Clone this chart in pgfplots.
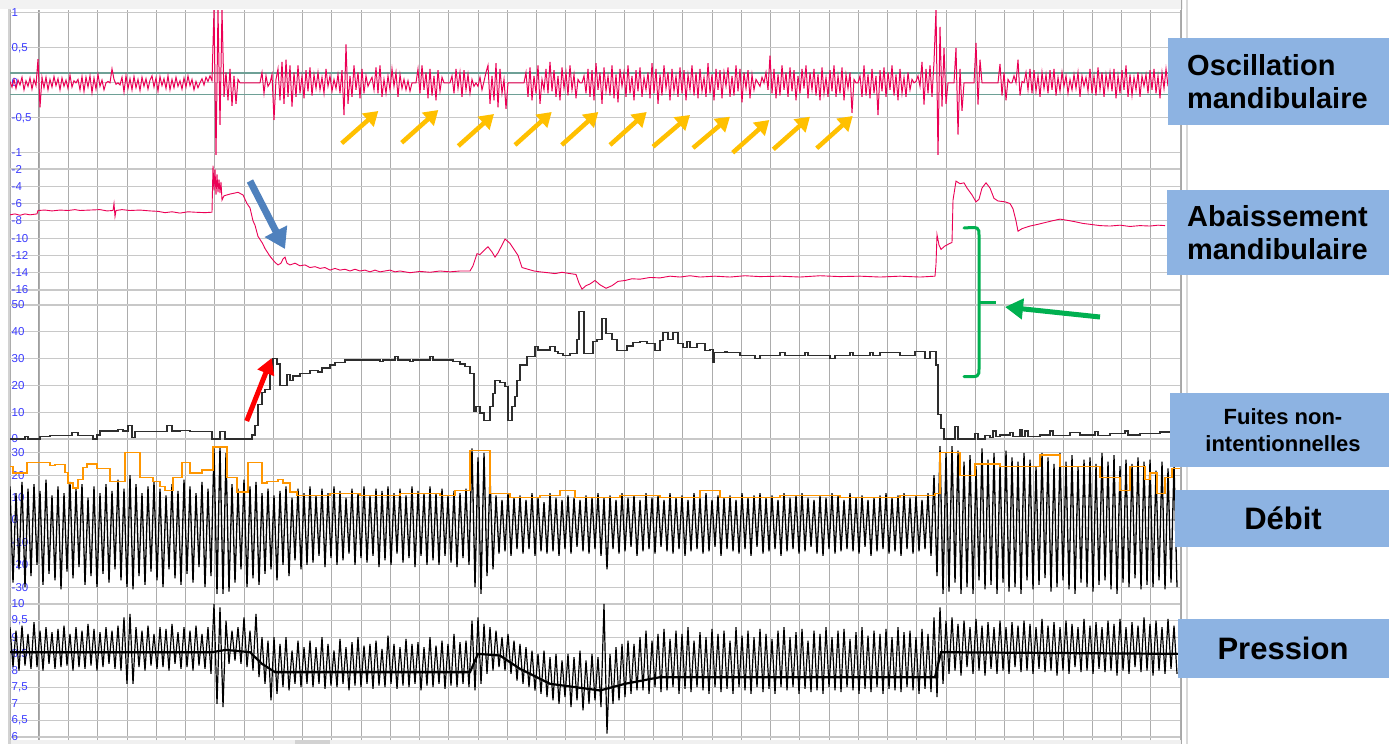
\documentclass[border=0pt]{standalone}
\usepackage{pgfplots}
\pgfplotsset{compat=1.18}
\usepackage{pgfplotstable}
\usepackage{fontspec}
\setmainfont{Liberation Sans}
\usetikzlibrary{arrows.meta}
\definecolor{sigred}{RGB}{235,0,85}
\definecolor{tickblue}{RGB}{60,60,255}
\definecolor{boxblue}{RGB}{141,179,226}
\definecolor{gridv}{RGB}{172,172,172}
\definecolor{gridh}{RGB}{200,200,200}
\definecolor{thresh}{RGB}{110,160,150}
\definecolor{debitorange}{RGB}{255,150,0}
\definecolor{arrowyellow}{RGB}{255,192,0}
\definecolor{arrowblue}{RGB}{79,129,189}
\definecolor{arrowgreen}{RGB}{0,176,80}
\definecolor{fuitegray}{RGB}{45,45,45}

% Oscillation mandibulaire: one sample every 2 px, from x=10
\pgfplotstableread[row sep=\\]{y\\
0.02\\ -0.06\\ 0.05\\ -0.08\\ 0.04\\ -0.03\\ 0.08\\ -0.10\\ 0.03\\ -0.05\\
0.07\\ -0.09\\ 0.05\\ -0.04\\ 0.34\\ -0.35\\ 0.08\\ -0.07\\ 0.08\\ -0.10\\
0.05\\ -0.06\\ 0.09\\ -0.04\\ 0.06\\ -0.10\\ 0.07\\ -0.05\\ 0.04\\ -0.08\\
0.11\\ -0.06\\ 0.03\\ 0.00\\ 0.05\\ -0.10\\ 0.09\\ -0.12\\ 0.08\\ -0.06\\
0.10\\ -0.14\\ 0.07\\ -0.09\\ 0.12\\ -0.05\\ 0.04\\ -0.10\\ 0.00\\ 0.02\\
0.00\\ 0.20\\ 0.05\\ -0.02\\ 0.00\\ -0.03\\ 0.08\\ -0.13\\ 0.10\\ -0.08\\
0.06\\ -0.10\\ 0.09\\ -0.07\\ 0.05\\ -0.11\\ 0.08\\ -0.05\\ 0.06\\ -0.09\\
0.04\\ 0.10\\ -0.06\\ 0.07\\ -0.12\\ 0.09\\ -0.04\\ 0.06\\ -0.08\\ 0.10\\
-0.10\\ 0.05\\ -0.07\\ 0.08\\ -0.05\\ 0.03\\ -0.09\\ 0.07\\ -0.06\\ 0.10\\
-0.04\\ 0.05\\ -0.10\\ 0.02\\ -0.07\\ 0.00\\ 0.06\\ -0.03\\ 0.08\\ 0.02\\
0.10\\ 0.03\\ 1.05\\ -1.05\\ 1.05\\ -0.60\\ 1.05\\ -0.20\\ 0.15\\ -0.25\\
0.20\\ -0.33\\ 0.10\\ -0.30\\ 0.05\\ 0.00\\ 0.00\\ 0.00\\ 0.00\\ 0.00\\
0.00\\ 0.00\\ 0.00\\ 0.00\\ 0.00\\ 0.00\\ 0.15\\ -0.15\\ 0.10\\ -0.05\\
0.00\\ 0.12\\ -0.53\\ 0.05\\ 0.20\\ -0.25\\ 0.30\\ -0.30\\ 0.33\\ -0.20\\
0.25\\ -0.34\\ 0.15\\ -0.20\\ 0.25\\ -0.15\\ 0.10\\ -0.22\\ 0.18\\ -0.12\\
0.22\\ -0.18\\ 0.12\\ -0.08\\ 0.15\\ -0.10\\ 0.08\\ -0.15\\ 0.20\\ -0.05\\
0.10\\ -0.12\\ 0.05\\ -0.08\\ 0.12\\ -0.15\\ 0.18\\ -0.46\\ 0.55\\ -0.30\\
0.10\\ -0.20\\ 0.25\\ -0.10\\ 0.15\\ -0.22\\ 0.20\\ -0.15\\ 0.10\\ -0.05\\
0.02\\ 0.08\\ -0.10\\ 0.22\\ -0.15\\ 0.25\\ -0.20\\ 0.05\\ -0.15\\ 0.10\\
-0.10\\ 0.20\\ -0.05\\ 0.15\\ -0.20\\ 0.12\\ -0.08\\ 0.05\\ -0.10\\ 0.03\\
-0.12\\ 0.00\\ 0.00\\ 0.00\\ 0.20\\ -0.15\\ 0.25\\ -0.10\\ 0.15\\ -0.22\\
0.20\\ -0.18\\ 0.10\\ -0.25\\ 0.18\\ -0.12\\ 0.08\\ 0.00\\ 0.00\\ 0.00\\
0.00\\ 0.10\\ -0.15\\ 0.20\\ -0.08\\ 0.15\\ -0.20\\ 0.18\\ -0.10\\ 0.12\\
-0.15\\ 0.05\\ -0.05\\ 0.00\\ -0.05\\ 0.08\\ -0.10\\ 0.02\\ 0.15\\ 0.25\\
-0.30\\ 0.10\\ -0.25\\ 0.28\\ -0.35\\ 0.20\\ -0.15\\ 0.05\\ -0.37\\ 0.00\\
0.00\\ 0.00\\ 0.00\\ 0.00\\ 0.00\\ 0.00\\ 0.00\\ 0.00\\ 0.15\\ -0.20\\
0.22\\ -0.25\\ 0.10\\ -0.15\\ 0.25\\ -0.30\\ 0.05\\ -0.10\\ 0.20\\ -0.15\\
0.30\\ -0.12\\ 0.18\\ -0.20\\ 0.10\\ -0.25\\ 0.22\\ -0.08\\ 0.15\\ -0.18\\
0.25\\ -0.10\\ 0.12\\ -0.22\\ 0.05\\ 0.00\\ 0.00\\ 0.10\\ -0.15\\ 0.20\\
-0.20\\ 0.18\\ -0.25\\ 0.28\\ -0.10\\ 0.15\\ -0.30\\ 0.22\\ -0.12\\ 0.10\\
-0.18\\ 0.25\\ -0.22\\ 0.12\\ -0.28\\ 0.20\\ -0.05\\ 0.15\\ -0.20\\ 0.25\\
-0.15\\ 0.10\\ -0.25\\ 0.18\\ -0.12\\ 0.22\\ -0.20\\ 0.08\\ -0.10\\ 0.15\\
-0.22\\ 0.28\\ -0.15\\ 0.20\\ -0.30\\ 0.12\\ -0.18\\ 0.25\\ -0.08\\ 0.15\\
-0.25\\ 0.20\\ -0.12\\ 0.10\\ -0.20\\ 0.22\\ -0.15\\ 0.18\\ -0.25\\ 0.12\\
-0.10\\ 0.25\\ -0.18\\ 0.15\\ -0.22\\ 0.20\\ -0.12\\ 0.08\\ -0.20\\ 0.28\\
-0.15\\ 0.12\\ -0.25\\ 0.20\\ -0.10\\ 0.18\\ -0.22\\ 0.15\\ -0.05\\ 0.22\\
-0.20\\ 0.10\\ -0.18\\ 0.25\\ -0.12\\ 0.20\\ -0.28\\ 0.15\\ -0.08\\ 0.18\\
-0.22\\ 0.12\\ -0.10\\ 0.05\\ 0.00\\ -0.05\\ 0.08\\ 0.00\\ 0.15\\ -0.10\\
0.39\\ -0.15\\ 0.20\\ -0.22\\ 0.12\\ -0.18\\ 0.25\\ -0.10\\ 0.15\\ -0.20\\
0.22\\ -0.12\\ 0.18\\ -0.25\\ 0.10\\ -0.15\\ 0.20\\ -0.08\\ 0.25\\ -0.22\\
0.15\\ -0.10\\ 0.20\\ -0.18\\ 0.12\\ -0.25\\ 0.22\\ -0.15\\ 0.08\\ -0.20\\
0.18\\ -0.12\\ 0.25\\ -0.20\\ 0.10\\ -0.15\\ 0.22\\ -0.25\\ 0.12\\ -0.08\\
0.15\\ -0.43\\ 0.05\\ 0.00\\ 0.00\\ 0.10\\ -0.20\\ 0.25\\ -0.18\\ 0.12\\
-0.22\\ 0.20\\ -0.15\\ 0.10\\ -0.46\\ 0.18\\ -0.12\\ 0.22\\ -0.20\\ 0.15\\
-0.10\\ 0.25\\ -0.18\\ 0.12\\ -0.25\\ 0.20\\ -0.15\\ 0.08\\ -0.20\\ 0.15\\
-0.10\\ 0.05\\ 0.00\\ 0.02\\ 0.10\\ -0.05\\ 0.30\\ -0.31\\ 0.20\\ -0.15\\
0.25\\ -0.20\\ 0.30\\ 1.05\\ -1.05\\ 0.80\\ -0.34\\ 0.50\\ -0.30\\ 0.00\\
0.00\\ 0.00\\ 0.00\\ 0.50\\ -0.74\\ 0.20\\ -0.40\\ 0.00\\ 0.00\\ 0.00\\
0.00\\ 0.00\\ 0.00\\ 0.57\\ -0.31\\ 0.33\\ 0.00\\ 0.00\\ 0.00\\ 0.00\\
0.00\\ 0.00\\ 0.00\\ 0.00\\ 0.00\\ 0.27\\ -0.18\\ 0.15\\ -0.25\\ 0.05\\
0.00\\ 0.00\\ 0.10\\ 0.00\\ 0.33\\ -0.18\\ 0.02\\ 0.00\\ 0.15\\ -0.10\\
0.20\\ -0.15\\ 0.18\\ -0.12\\ 0.10\\ -0.20\\ 0.15\\ -0.08\\ 0.12\\ -0.15\\
0.18\\ -0.10\\ 0.20\\ -0.18\\ 0.08\\ -0.12\\ 0.15\\ -0.05\\ 0.10\\ -0.15\\
0.05\\ -0.10\\ 0.12\\ -0.08\\ 0.15\\ -0.20\\ 0.10\\ -0.05\\ 0.08\\ -0.12\\
0.20\\ -0.15\\ 0.10\\ -0.18\\ 0.22\\ -0.10\\ 0.15\\ -0.20\\ 0.12\\ -0.08\\
0.15\\ -0.12\\ 0.20\\ -0.22\\ 0.10\\ -0.15\\ 0.18\\ -0.10\\ 0.25\\ -0.20\\
0.12\\ -0.18\\ 0.08\\ -0.10\\ 0.15\\ -0.20\\ 0.10\\ -0.05\\ 0.12\\ -0.15\\
0.18\\ -0.10\\ 0.20\\ -0.15\\ 0.10\\ -0.22\\ 0.15\\ -0.08\\ 0.20\\ -0.05\\
}\osc

% Debit: one sample every 3 px, from x=10
\pgfplotstableread[row sep=\\]{y\\
15\\ -28\\ 12\\ -22\\ 17\\ -30\\ 14\\ -25\\ 16\\ -20\\
13\\ -29\\ 18\\ -24\\ 11\\ -27\\ 15\\ -31\\ 12\\ -23\\
17\\ -26\\ 14\\ -21\\ 16\\ -29\\ 10\\ -25\\ 15\\ -30\\
12\\ -24\\ 16\\ -28\\ 13\\ -22\\ 18\\ -27\\ 14\\ -30\\
20\\ -31\\ 16\\ -25\\ 12\\ -29\\ 15\\ -23\\ 17\\ -27\\
14\\ -30\\ 11\\ -22\\ 16\\ -26\\ 13\\ -29\\ 18\\ -24\\
15\\ -28\\ 12\\ -21\\ 17\\ -30\\ 14\\ -25\\ 32\\ -33\\
33\\ -33\\ 30\\ -32\\ 16\\ -28\\ 14\\ -22\\ 18\\ -30\\
15\\ -26\\ 17\\ -29\\ 12\\ -24\\ 14\\ -22\\ 11\\ -27\\
13\\ -20\\ 15\\ -25\\ 10\\ -18\\ 14\\ -22\\ 12\\ -20\\
15\\ -19\\ 11\\ -16\\ 14\\ -21\\ 12\\ -17\\ 15\\ -20\\
13\\ -18\\ 10\\ -15\\ 14\\ -20\\ 12\\ -17\\ 15\\ -19\\
11\\ -16\\ 14\\ -21\\ 13\\ -18\\ 15\\ -20\\ 12\\ -15\\
14\\ -19\\ 11\\ -17\\ 15\\ -21\\ 13\\ -16\\ 12\\ -20\\
15\\ -18\\ 12\\ -20\\ 14\\ -16\\ 11\\ -19\\ 13\\ -21\\
12\\ -17\\ 14\\ -20\\ 32\\ -30\\ 28\\ -33\\ 30\\ -25\\
20\\ -22\\ 11\\ -15\\ 9\\ -14\\ 12\\ -16\\ 10\\ -13\\
11\\ -15\\ 9\\ -13\\ 12\\ -16\\ 10\\ -14\\ 8\\ -15\\
12\\ -14\\ 10\\ -16\\ 9\\ -13\\ 11\\ -15\\ 10\\ -12\\
9\\ -14\\ 11\\ -15\\ 10\\ -13\\ 12\\ -16\\ 10\\ -22\\
11\\ -13\\ 9\\ -15\\ 12\\ -14\\ 10\\ -12\\ 11\\ -16\\
9\\ -14\\ 12\\ -13\\ 10\\ -15\\ 11\\ -12\\ 9\\ -14\\
12\\ -15\\ 10\\ -13\\ 11\\ -16\\ 9\\ -14\\ 12\\ -13\\
10\\ -15\\ 12\\ -14\\ 9\\ -12\\ 11\\ -16\\ 10\\ -13\\
11\\ -14\\ 9\\ -15\\ 12\\ -13\\ 10\\ -16\\ 11\\ -12\\
12\\ -15\\ 10\\ -14\\ 11\\ -13\\ 9\\ -16\\ 12\\ -14\\
10\\ -13\\ 11\\ -15\\ 12\\ -14\\ 10\\ -12\\ 9\\ -15\\
11\\ -16\\ 10\\ -13\\ 12\\ -15\\ 11\\ -14\\ 9\\ -13\\
12\\ -14\\ 10\\ -15\\ 11\\ -12\\ 9\\ -16\\ 10\\ -14\\
11\\ -13\\ 12\\ -15\\ 10\\ -14\\ 11\\ -16\\ 12\\ -13\\
10\\ -15\\ 11\\ -14\\ 9\\ -13\\ 12\\ -16\\ 20\\ -25\\
33\\ -33\\ 30\\ -32\\ 33\\ -28\\ 31\\ -33\\ 26\\ -30\\
29\\ -33\\ 24\\ -27\\ 32\\ -31\\ 27\\ -29\\ 30\\ -33\\
25\\ -28\\ 31\\ -32\\ 28\\ -30\\ 26\\ -33\\ 30\\ -27\\
27\\ -31\\ 24\\ -29\\ 30\\ -26\\ 28\\ -32\\ 25\\ -30\\
30\\ -27\\ 26\\ -31\\ 29\\ -33\\ 24\\ -28\\ 27\\ -30\\
28\\ -32\\ 25\\ -29\\ 30\\ -27\\ 26\\ -31\\ 29\\ -33\\
24\\ -28\\ 27\\ -30\\ 25\\ -26\\ 28\\ -31\\ 26\\ -29\\
27\\ -30\\ 22\\ -27\\ 26\\ -31\\ 23\\ -28\\ 25\\ -30\\
}\debit

% Pression: one sample every 3 px, from x=10
\pgfplotstableread[row sep=\\]{y\\
9.3\\ 8.1\\ 9.2\\ 8.0\\ 9.35\\ 8.15\\ 9.1\\ 8.05\\ 9.45\\ 8.1\\
9.2\\ 8.0\\ 9.3\\ 8.2\\ 9.15\\ 8.05\\ 9.25\\ 8.1\\ 9.35\\ 8.15\\
9.1\\ 8.0\\ 9.3\\ 8.1\\ 9.2\\ 8.05\\ 9.4\\ 8.15\\ 9.25\\ 8.0\\
9.15\\ 8.1\\ 9.3\\ 8.2\\ 9.2\\ 8.05\\ 9.35\\ 8.0\\ 9.6\\ 7.6\\
9.7\\ 7.6\\ 9.3\\ 8.1\\ 9.2\\ 8.0\\ 9.35\\ 8.15\\ 9.1\\ 8.05\\
9.3\\ 8.1\\ 9.25\\ 8.0\\ 9.4\\ 8.2\\ 9.15\\ 8.05\\ 9.3\\ 8.1\\
9.2\\ 8.0\\ 9.35\\ 8.15\\ 9.1\\ 8.05\\ 9.3\\ 7.9\\ 10.0\\ 7.0\\
9.9\\ 6.9\\ 9.5\\ 8.2\\ 9.2\\ 8.3\\ 9.3\\ 8.2\\ 9.6\\ 8.1\\
9.2\\ 8.0\\ 9.7\\ 7.8\\ 9.0\\ 7.6\\ 8.9\\ 7.1\\ 9.0\\ 7.3\\
8.8\\ 7.5\\ 9.0\\ 7.4\\ 8.6\\ 7.6\\ 8.9\\ 7.5\\ 8.7\\ 7.6\\
8.9\\ 7.5\\ 8.7\\ 7.6\\ 9.0\\ 7.45\\ 8.8\\ 7.55\\ 8.6\\ 7.5\\
8.95\\ 7.6\\ 8.7\\ 7.4\\ 8.85\\ 7.55\\ 9.0\\ 7.5\\ 8.75\\ 7.6\\
8.8\\ 7.45\\ 8.9\\ 7.55\\ 8.65\\ 7.5\\ 9.05\\ 7.6\\ 8.8\\ 7.45\\
8.7\\ 7.55\\ 8.95\\ 7.5\\ 8.8\\ 7.6\\ 8.85\\ 7.4\\ 8.7\\ 7.55\\
9.0\\ 7.5\\ 8.75\\ 7.6\\ 8.9\\ 7.45\\ 8.8\\ 7.55\\ 9.1\\ 7.5\\
8.85\\ 7.6\\ 8.9\\ 7.5\\ 9.5\\ 7.4\\ 9.6\\ 7.6\\ 9.4\\ 7.9\\
9.3\\ 8.0\\ 9.2\\ 8.1\\ 9.0\\ 8.0\\ 9.1\\ 7.9\\ 8.9\\ 7.7\\
8.8\\ 7.6\\ 8.7\\ 7.5\\ 8.6\\ 7.4\\ 8.5\\ 7.3\\ 8.6\\ 7.2\\
8.4\\ 7.1\\ 8.5\\ 7.0\\ 8.3\\ 7.2\\ 8.5\\ 6.9\\ 8.4\\ 7.1\\
8.6\\ 6.8\\ 8.3\\ 7.0\\ 8.5\\ 7.1\\ 8.4\\ 6.9\\ 10.0\\ 6.1\\
8.5\\ 7.0\\ 8.7\\ 7.1\\ 8.8\\ 7.2\\ 8.9\\ 7.3\\ 8.8\\ 7.4\\
9.0\\ 7.4\\ 9.2\\ 7.3\\ 8.9\\ 7.5\\ 9.1\\ 7.35\\ 9.25\\ 7.4\\
8.95\\ 7.5\\ 9.2\\ 7.3\\ 9.1\\ 7.45\\ 9.3\\ 7.35\\ 8.9\\ 7.5\\
9.15\\ 7.4\\ 9.0\\ 7.3\\ 9.25\\ 7.5\\ 9.1\\ 7.35\\ 9.2\\ 7.45\\
8.9\\ 7.3\\ 9.3\\ 7.5\\ 9.05\\ 7.4\\ 9.2\\ 7.3\\ 9.0\\ 7.5\\
9.25\\ 7.35\\ 9.1\\ 7.45\\ 8.95\\ 7.3\\ 9.2\\ 7.5\\ 9.3\\ 7.4\\
9.0\\ 7.5\\ 9.15\\ 7.3\\ 9.25\\ 7.45\\ 8.9\\ 7.35\\ 9.2\\ 7.4\\
9.1\\ 7.3\\ 9.3\\ 7.5\\ 9.0\\ 7.4\\ 9.2\\ 7.35\\ 9.25\\ 7.5\\
8.95\\ 7.4\\ 9.15\\ 7.3\\ 9.3\\ 7.45\\ 9.05\\ 7.35\\ 9.2\\ 7.5\\
9.1\\ 7.3\\ 9.25\\ 7.45\\ 9.0\\ 7.4\\ 9.3\\ 7.35\\ 9.15\\ 7.5\\
9.2\\ 7.4\\ 9.0\\ 7.3\\ 9.25\\ 7.45\\ 9.1\\ 7.35\\ 9.6\\ 7.2\\
9.9\\ 7.6\\ 9.5\\ 7.9\\ 9.6\\ 8.0\\ 9.4\\ 7.85\\ 9.5\\ 8.1\\
9.3\\ 7.9\\ 9.55\\ 8.0\\ 9.35\\ 7.85\\ 9.45\\ 8.05\\ 9.3\\ 7.9\\
9.5\\ 8.0\\ 9.3\\ 7.9\\ 9.45\\ 8.1\\ 9.35\\ 7.95\\ 9.5\\ 8.0\\
9.4\\ 7.9\\ 9.3\\ 8.05\\ 9.55\\ 7.95\\ 9.35\\ 8.0\\ 9.45\\ 7.85\\
9.3\\ 8.0\\ 9.5\\ 7.9\\ 9.4\\ 8.1\\ 9.3\\ 7.95\\ 9.55\\ 8.0\\
9.35\\ 7.9\\ 9.45\\ 8.05\\ 9.3\\ 7.95\\ 9.5\\ 8.0\\ 9.4\\ 7.85\\
9.55\\ 8.0\\ 9.3\\ 7.9\\ 9.45\\ 8.1\\ 9.35\\ 7.95\\ 9.6\\ 8.0\\
9.4\\ 7.85\\ 9.5\\ 8.0\\ 9.3\\ 7.9\\ 9.55\\ 8.05\\ 9.35\\ 7.9\\
}\pression

\newcommand{\tickfont}{\fontsize{11.5}{12}\selectfont}
\pgfplotsset{panel/.style={
  scale only axis, width=1170pt, anchor=north west,
  xmin=10, xmax=1180, xtick={10,39.25,...,1181}, xticklabels={},
  xmajorgrids, ymajorgrids,
  major x grid style={gridv, line width=0.9pt},
  major y grid style={gridh, line width=1.1pt},
  axis line style={draw=none}, major tick length=0pt,
  yticklabel={\tickfont\pgfmathprintnumber{\tick}},
  yticklabel style={anchor=west, text=tickblue, inner sep=1.5pt,
    /pgf/number format/use comma, /pgf/number format/assume math mode=true},
}}

\begin{document}
\begin{tikzpicture}
\useasboundingbox (0,0) rectangle (1389pt,-744pt);
\fill[white] (0,0) rectangle (1389pt,-744pt);
\begin{scope}[x=1pt,y=-1pt]
  \fill[gray!10] (0,0) rectangle (1183,9);
  \fill[gray!12] (10,740) rectangle (1181,744);
  \fill[gray!35] (295,740) rectangle (330,744);
  \draw[gray!35, line width=3pt] (9.5,9) -- (9.5,744);
  \draw[gray!70, line width=1.3pt] (1181.5,0) -- (1181.5,744);
  \draw[gray!30, line width=1.5pt] (1187,0) -- (1187,744);
  \draw[gray!75, line width=1.6pt] (39.25,10) -- (39.25,740);
\end{scope}

% Panel 1: oscillation mandibulaire
\begin{axis}[panel, at={(10pt,-10pt)}, height=145pt,
  ymin=-1.03, ymax=1.04, ytick={-1,-0.5,0,0.5,1}]
  \addplot[thresh, line width=1.2pt] coordinates {(10,0.14) (1180,0.14)};
  \addplot[thresh, line width=1.2pt] coordinates {(10,-0.17) (1180,-0.17)};
  \addplot[sigred, line width=1pt] table[x expr=\coordindex*2+10, y=y] {\osc};
\end{axis}

% Panel 2: abaissement mandibulaire
\begin{axis}[panel, at={(10pt,-155pt)}, height=142pt,
  ymin=-16.81, ymax=-0.38, ytick={-16,-14,...,-2}]
  \addplot[sigred, line width=0.9pt] coordinates {
  (10,-7.3)(15,-7.2)(20,-7.35)(25,-7.2)(30,-7.3)(37,-7.2)(38,-6.8)(45,-6.75)(52,-6.85)
  (60,-6.75)(68,-6.8)(75,-6.7)(80,-6.8)(90,-6.75)(100,-6.7)(107,-6.85)
  (113,-6.8)(114,-6.0)(115,-7.5)(116,-6.8)(122,-6.7)(130,-6.8)(140,-6.75)(150,-6.85)
  (158,-6.9)(165,-7.05)(172,-6.95)(180,-7.1)(188,-6.95)(195,-7.0)(205,-7.05)(212,-7.0)
  (213,-1.6)(214,-4.5)(215,-2.0)
  (216,-5.0)(217,-2.6)(218,-4.7)(219,-3.2)(220,-4.8)(221,-3.5)(222,-5.6)
  (224,-5.1)(230,-4.9)(238,-4.7)(243,-5.0)(247,-6.0)(250,-6.5)(253,-8.0)
  (255,-8.5)(258,-9.8)(262,-10.5)(265,-11.2)(270,-12.1)(275,-12.8)(278,-13.1)
  (281,-12.9)(283,-12.4)(285,-12.2)(287,-12.9)(290,-13.1)(295,-12.9)(300,-13.2)
  (305,-13.1)(310,-13.4)(315,-13.3)(320,-13.5)(325,-13.4)(330,-13.7)(335,-13.5)
  (340,-13.7)(345,-13.6)(350,-13.8)(355,-13.6)(360,-13.8)(365,-13.7)(370,-13.9)
  (375,-13.7)(380,-13.9)(385,-13.8)(390,-13.7)(395,-13.9)(400,-13.8)(410,-14.0)
  (420,-13.85)(430,-13.95)(440,-13.8)(450,-13.9)(460,-13.8)(470,-13.8)
  (473,-13.2)(477,-11.8)(480,-11.9)(485,-11.3)(488,-11.0)(492,-11.6)(495,-12.2)
  (498,-11.7)(502,-10.8)(505,-10.1)(510,-10.6)(514,-11.3)(518,-12.0)(522,-13.4)
  (528,-13.6)(534,-13.8)(540,-13.9)(548,-14.0)(555,-14.1)(562,-13.95)(570,-14.1)
  (576,-14.2)(579,-15.2)(582,-15.9)
  (586,-15.5)(590,-15.3)(595,-14.9)(600,-15.4)(606,-15.8)(612,-15.5)(618,-15.0)
  (625,-14.9)(632,-14.7)(640,-14.75)(650,-14.55)(660,-14.6)(670,-14.4)(680,-14.5)
  (690,-14.35)(700,-14.5)(715,-14.4)(730,-14.5)(745,-14.35)(760,-14.45)(780,-14.4)
  (800,-14.5)(820,-14.35)(840,-14.45)(860,-14.4)(880,-14.5)(900,-14.4)(920,-14.5)
  (935,-14.4)(936,-13.0)(937,-9.6)
  (939,-10.8)(941,-11.3)(945,-10.9)(950,-10.6)(952,-10.5)(953,-5.6)(956,-3.4)
  (960,-3.7)(964,-3.6)(967,-4.2)(972,-5.0)(976,-5.8)(979,-5.5)(982,-4.2)
  (986,-3.6)(990,-4.2)(994,-5.4)(998,-5.7)(1005,-5.8)(1010,-6.0)(1013,-6.6)
  (1016,-8.0)(1018,-9.2)(1022,-8.9)(1030,-8.6)(1038,-8.4)(1045,-8.2)(1052,-8.0)
  (1060,-7.8)(1068,-7.95)(1075,-8.1)(1083,-8.3)(1090,-8.4)(1100,-8.55)(1110,-8.6)
  (1120,-8.5)(1130,-8.65)(1140,-8.55)(1150,-8.6)(1158,-8.5)(1165,-8.55)};
\end{axis}

% Panel 3: fuites non-intentionnelles
\begin{axis}[panel, at={(10pt,-297pt)}, height=148pt,
  ymin=-2.24, ymax=52.99, ytick={0,10,...,50}]
  \addplot[fuitegray, line width=1.1pt, const plot] coordinates {
  (10,0)(25,1)(28,0)(40,1)(50,1.2)(72,2.5)(78,1.2)(93,0)(97,1.5)(100,3)
  (118,3.5)(123,3)(128,5.2)(132,0.5)(135,2.8)(167,5)(172,3)(180,3.2)(190,2.7)
  (212,0)(220,2.7)(225,0)(252,1.5)(255,5)(258,13)(262,17.5)(265,18.5)(270,25)
  (273,30)(277,28)(280,20)(287,24)(290,22)(293,23.5)(300,24.6)(310,25.7)
  (318,25)(322,26.5)(330,27.6)(335,28.7)(345,29.5)(380,28.8)(383,29.5)
  (395,30.7)(398,29.5)(410,28.8)(413,29.5)(430,30.7)(433,29.5)(453,28.8)
  (460,28)(465,27)(470,24.6)(474,10.2)(476,12)(480,9.7)(484,7)(490,12)
  (493,17)(495,22)(500,21)(505,19.5)(508,7)(512,12)(515,15.7)(517,22)
  (520,27.6)(527,30.7)(535,34.4)(538,33.2)(550,34.4)(555,32.6)(558,31.8)
  (563,31)(570,31.8)(577,37)(579,47.5)(584,32)(593,36.3)(597,37)(602,45)
  (606,39.5)(612,37)(617,33)(627,34.7)(633,36)(640,36.3)(647,35.8)(655,33)
  (660,36.7)(663,39.7)(668,37)(673,39.7)(678,35.8)(683,34.1)(687,36.3)
  (690,34)(697,35.8)(705,33)(710,33.5)(713,28.4)(714,32.2)(725,32.8)
  (727,32.2)(740,31.3)(755,30.2)(760,31)(780,32.2)(785,31)(805,32.2)(808,31)
  (830,30)(835,31)(850,32.2)(853,31)(870,32.2)(873,31)(880,32.2)(900,31.3)
  (915,32.6)(925,30.2)(930,32.6)(936,27.6)(938,9)(941,4)(944,0)(955,4.5)
  (958,0)(975,2)(978,0)(985,1.2)(990,0.5)(993,3)(996,1)(1000,1.5)(1010,2.5)
  (1013,1)(1020,3.5)(1022,1)(1025,3)(1028,1)(1040,1.5)(1050,3)(1053,1.2)
  (1070,2.3)(1080,1.5)(1095,2.8)(1098,1.2)(1110,2)(1125,3)(1128,1.5)
  (1140,2.2)(1160,2.6)(1180,2.6)};
\end{axis}

% Panel 4: debit
\begin{axis}[panel, at={(10pt,-445pt)}, height=152pt,
  ymin=-34.38, ymax=33.48, ytick={-30,-20,...,30}]
  \addplot[black, line width=1.3pt] table[x expr=\coordindex*3+10, y=y] {\debit};
  \addplot[debitorange, line width=1.1pt, const plot] coordinates {
  (10,24)(13,21)(27,25.5)(50,24.4)(55,24.8)(65,21.4)(68,16.5)(73,14.3)
  (78,17.9)(83,23.6)(87,25)(97,23)(110,17)(125,30)(140,19)(153,17)(160,15)
  (165,13)(173,19)(182,25.5)(190,21)(202,22.3)(213,32.6)(227,19)(237,12.5)
  (248,25.5)(262,16.5)(267,17)(278,17.9)(283,16.5)(290,12.5)(297,11)
  (330,12)(360,11)(400,12)(440,11)(455,13)(470,31)(490,12)(510,10)(540,11)
  (560,13)(575,10)(620,11)(660,10)(700,13)(720,10)(780,11)(840,10)(900,11)
  (935,12)(940,30)(960,20)(975,25)(1000,24)(1040,29)(1060,24)(1100,19)
  (1120,13)(1130,24)(1145,18)(1150,21)(1157,12)(1165,19)(1172,23)(1180,23)};
\end{axis}

% Panel 5: pression
\begin{axis}[panel, at={(10pt,-597pt)}, height=143pt,
  ymin=5.91, ymax=10.21, ytick={6,6.5,...,10}]
  \addplot[black, line width=1.2pt] table[x expr=\coordindex*3+10, y=y] {\pression};
  \addplot[black, line width=2.2pt] coordinates {
  (10,8.55)(212,8.55)(226,8.62)(250,8.55)(262,8.2)(275,7.95)(470,7.95)
  (478,8.5)(500,8.45)(520,8.05)(550,7.6)(600,7.4)(625,7.6)(660,7.8)
  (935,7.8)(941,8.55)(1180,8.5)};
\end{axis}

\begin{scope}[x=1pt,y=-1pt]
  % right-hand labels
  \fill[boxblue] (1168,38) rectangle (1389,125);
  \node[anchor=west, align=left, inner sep=0pt, font=\fontsize{29}{33}\selectfont\bfseries]
    at (1187,81.5) {Oscillation\\mandibulaire};
  \fill[boxblue] (1167,190) rectangle (1389,275);
  \node[anchor=west, align=left, inner sep=0pt, font=\fontsize{29}{33}\selectfont\bfseries]
    at (1187,232.5) {Abaissement\\mandibulaire};
  \fill[boxblue] (1170,393) rectangle (1389,467);
  \node[align=center, inner sep=0pt, font=\fontsize{22}{27}\selectfont\bfseries]
    at (1283,430) {Fuites non-\\intentionnelles};
  \fill[boxblue] (1175,490) rectangle (1389,547);
  \node[inner sep=0pt, font=\fontsize{31}{33}\selectfont\bfseries] at (1283,518.5) {Débit};
  \fill[boxblue] (1178,619) rectangle (1389,678);
  \node[inner sep=0pt, font=\fontsize{31}{33}\selectfont\bfseries] at (1283,648.5) {Pression};

  % yellow arrows
  \foreach \ax/\ay/\bx/\by in {341.7/143.3/378.3/111, 401.7/142.7/438.3/110,
      458.3/146/494/114, 515/145/551.7/112, 561.7/145/598.3/112,
      610/145/646.7/112, 653/146.7/690/115, 693/148/730/116.7,
      732.7/152.7/769.3/120, 773.3/149.3/810/116.7, 816.7/148.3/852.7/116}
    \draw[arrowyellow, line width=4.5pt, -{Triangle[length=14pt,width=17pt]}]
      (\ax,\ay) -- (\bx,\by);
  % blue arrow
  \draw[arrowblue, line width=7pt, -{Triangle[length=20pt,width=24pt]}]
    (250,181) -- (285,249);
  % red arrow
  \draw[red, line width=5pt, -{Triangle[length=16pt,width=17pt]}]
    (246.7,421) -- (271.7,358);
  % green bracket and arrow
  \draw[arrowgreen, line width=3pt, line cap=round]
    (964,228) .. controls (979,227) .. (979,236) -- (979,368)
    .. controls (979,377) .. (964,376.5);
  \draw[arrowgreen, line width=3pt] (979,302) -- (996,302);
  \draw[arrowgreen, line width=5pt, -{Triangle[length=18pt,width=20pt]}]
    (1100,317) -- (1005,307);
\end{scope}
\end{tikzpicture}
\end{document}
